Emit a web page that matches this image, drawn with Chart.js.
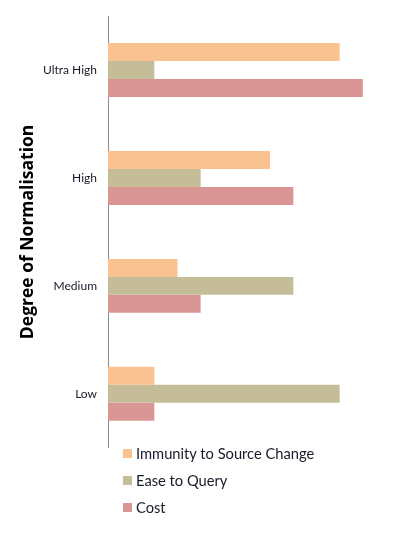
<!DOCTYPE html>
<html>
<head>
<meta charset="utf-8">
<script src="https://cdn.jsdelivr.net/npm/chart.js@4"></script>
<style>
  html, body { margin: 0; padding: 0; background: #fff; }
  #wrap { position: relative; width: 415px; height: 537px; overflow: hidden; }
  canvas { position: absolute; left: 0; top: 0; }
  #legend { position: absolute; left: 123px; top: 440px; font-family: Lato, sans-serif; font-size: 14.7px; color: #1a1a2a; }
  .item { height: 27px; line-height: 21px; display: flex; align-items: center; }
  .box { width: 9px; height: 9px; margin-right: 4px; }
</style>
</head>
<body>
<div id="wrap">
  <canvas id="normChart" width="415" height="458"></canvas>
  <div id="legend"></div>
</div>
<script>
const categories = ['Ultra High', 'High', 'Medium', 'Low'];
const immunity = [5, 3.5, 1.5, 1];
const easeToQuery = [1, 2, 4, 5];
const cost = [5.5, 4, 2, 1];

document.addEventListener('DOMContentLoaded', function() {
    const ctx = document.getElementById('normChart').getContext('2d');
    const normChart = new Chart(ctx, {
        type: 'bar',
        data: {
            labels: categories,
            datasets: [
                { label: 'Immunity to Source Change', data: immunity, backgroundColor: '#FAC291' },
                { label: 'Ease to Query', data: easeToQuery, backgroundColor: '#C4BD97' },
                { label: 'Cost', data: cost, backgroundColor: '#D99694' }
            ]
        },
        options: {
            indexAxis: 'y',
            responsive: false,
            animation: false,
            categoryPercentage: 0.5,
            barPercentage: 1,
            layout: { padding: { top: 16, right: 29, bottom: 2, left: 0 } },
            plugins: { legend: { display: false }, tooltip: { enabled: false } },
            scales: {
                x: { display: false, min: 0, max: 6 },
                y: {
                    grid: { display: false },
                    border: { display: true, color: '#8c8c8c', width: 1 },
                    ticks: { color: '#1a1a2a', padding: 3, font: { family: 'Lato', size: 12 } },
                    title: {
                        display: true,
                        text: 'Degree of Normalisation',
                        color: '#000',
                        font: { family: 'Open Sans', size: 17.5, weight: 'bold' },
                        padding: { top: 18, bottom: 0 }
                    },
                    afterFit: function(scale) { scale.width = 108; }
                }
            }
        }
    });

    const legend = document.getElementById('legend');
    normChart.data.datasets.forEach(function(ds) {
        const row = document.createElement('div');
        row.className = 'item';
        row.innerHTML = '<span class="box" style="background:' + ds.backgroundColor + '"></span>' + ds.label;
        legend.appendChild(row);
    });
});
</script>
</body>
</html>
